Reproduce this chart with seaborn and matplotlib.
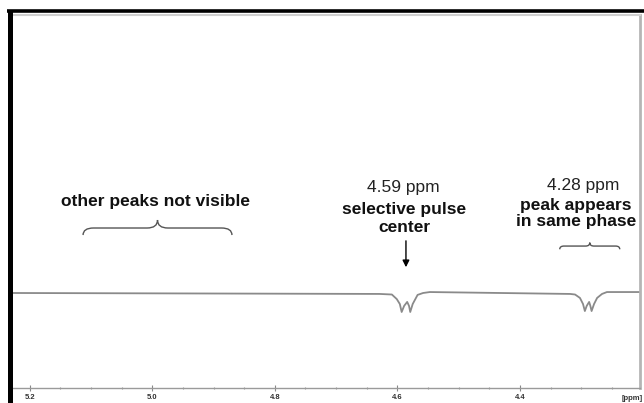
import seaborn as sns
import matplotlib.pyplot as plt
from matplotlib.path import Path
from matplotlib.patches import PathPatch
from matplotlib.lines import Line2D

# spectrum trace (ppm, relative intensity)
ppm = [5.229, 4.629, 4.609, 4.601, 4.596, 4.593, 4.589, 4.584, 4.581, 4.579,
       4.575, 4.567, 4.558, 4.547,
       4.318, 4.310, 4.302, 4.297, 4.294, 4.291, 4.287, 4.285, 4.283, 4.279,
       4.274, 4.266, 4.258, 4.204]
intensity = [0.0, -0.05, -0.08, -0.32, -0.58, -1.0, -0.68, -0.47, -0.68, -1.0,
             -0.58, -0.1, 0.0, 0.05,
             -0.05, -0.08, -0.26, -0.58, -0.95, -0.68, -0.47, -0.68, -0.95, -0.58,
             -0.26, -0.05, 0.05, 0.05]

major_ticks = [5.2, 5.0, 4.8, 4.6, 4.4]
tick_labels = ["5.2", "5.0", "4.8", "4.6", "4.4"]
minor_ticks = [5.15, 5.1, 5.05, 4.95, 4.9, 4.85, 4.75, 4.7, 4.65,
               4.55, 4.5, 4.45, 4.35, 4.3, 4.25]

# braces: (left ppm, right ppm, tip, flat, cusp)
braces = [(5.113, 4.870, 3.05, 3.42, 3.84),
          (4.335, 4.237, 2.30, 2.47, 2.65)]

sns.set_style("white")
plt.rcParams['font.family'] = ['Liberation Sans', 'DejaVu Sans']

fig = plt.figure(figsize=(6.44, 4.03), dpi=100)
ax = fig.add_axes([12/644, 15/403, 628/644, 373/403])

sns.lineplot(x=ppm, y=intensity, sort=False, color="#8a8a8a", linewidth=1.3, ax=ax)

ax.set_xlim(5.229, 4.204)
ax.set_ylim(-5.0, 14.63)

ax.set_xticks(major_ticks)
ax.set_xticklabels(tick_labels, fontsize=5.5, fontweight="bold", color="#333333")
ax.set_xticks(minor_ticks, minor=True)
ax.tick_params(axis="x", which="major", direction="inout", length=4, width=0.8,
               color="#888888", pad=2, bottom=True)
ax.tick_params(axis="x", which="minor", direction="inout", length=2, width=0.8,
               color="#999999", bottom=True)
ax.set_yticks([])
ax.text(4.217, -0.018, "[ppm]", transform=ax.get_xaxis_transform(), fontsize=5.5,
        fontweight="bold", color="#333333", ha="center", va="top")

for side in ["top", "right", "bottom"]:
    ax.spines[side].set_visible(True)
ax.spines["top"].set_color("#cfcfcf")
ax.spines["top"].set_linewidth(1.5)
ax.spines["right"].set_color("#b5b5b5")
ax.spines["right"].set_linewidth(2)
ax.spines["bottom"].set_color("#9a9a9a")
ax.spines["bottom"].set_linewidth(1)
ax.spines["left"].set_visible(False)

# curly braces
for xa, xb, tip, flat, cusp in braces:
    mid = (xa + xb) / 2
    r = (xb - xa) * 0.07
    verts = [(xa, tip), (xa, flat), (xa + r, flat),
             (mid - r, flat), (mid, flat), (mid, cusp),
             (mid, flat), (mid + r, flat),
             (xb - r, flat), (xb, flat), (xb, tip)]
    codes = [Path.MOVETO, Path.CURVE3, Path.CURVE3,
             Path.LINETO, Path.CURVE3, Path.CURVE3,
             Path.CURVE3, Path.CURVE3,
             Path.LINETO, Path.CURVE3, Path.CURVE3]
    ax.add_patch(PathPatch(Path(verts, codes), fill=False, edgecolor="#555555", lw=1))

# annotations
fs = 12.5
ax.text(4.995, 4.79, "other peaks not visible", fontsize=fs, fontweight="bold",
        color="#111111", ha="center", va="center")
ax.text(4.591, 5.53, "4.59 ppm", fontsize=fs, color="#222222", ha="center", va="center")
ax.text(4.589, 4.37, "selective pulse", fontsize=fs, fontweight="bold",
        color="#111111", ha="center", va="center")
ax.text(4.589, 3.47, "center", fontsize=fs, fontweight="bold",
        color="#111111", ha="center", va="center")
ax.annotate("", xy=(4.586, 1.21), xytext=(4.586, 2.89),
            arrowprops=dict(arrowstyle="-|>", color="black", lw=1, mutation_scale=10))
ax.text(4.296, 5.68, "4.28 ppm", fontsize=fs, color="#222222", ha="center", va="center")
ax.text(4.309, 4.63, "peak appears", fontsize=fs, fontweight="bold",
        color="#111111", ha="center", va="center")
ax.text(4.309, 3.74, "in same phase", fontsize=fs, fontweight="bold",
        color="#111111", ha="center", va="center")

# black frame on left and top
fig.add_artist(Line2D([9.5/644, 9.5/644], [0, 393/403], color="black", lw=3.6,
                      transform=fig.transFigure, solid_capstyle="butt"))
fig.add_artist(Line2D([7/644, 1], [392.5/403, 392.5/403], color="black", lw=2.6,
                      transform=fig.transFigure, solid_capstyle="butt"))

fig.savefig("out.png", dpi=100)
